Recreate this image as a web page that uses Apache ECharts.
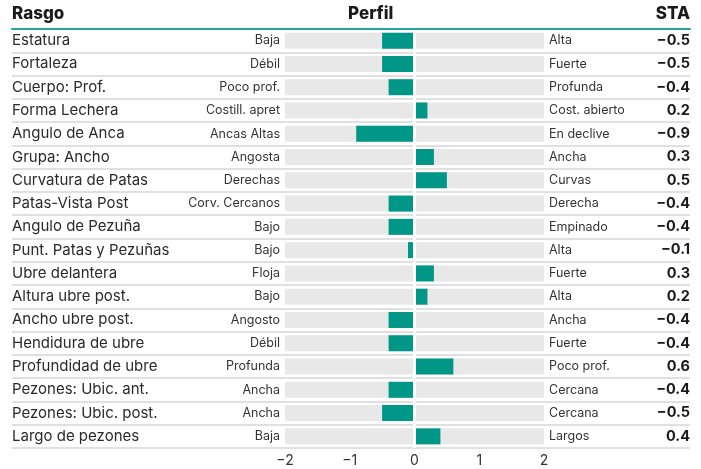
<!DOCTYPE html>
<html>
<head>
<meta charset="utf-8">
<script src="https://cdn.jsdelivr.net/npm/echarts@6/dist/echarts.min.js"></script>
<style>
  html, body { margin: 0; padding: 0; background: #fff; }
  #chart { width: 701px; height: 469px; }
</style>
</head>
<body>
<div id="chart"></div>
<script>
var traits = ['Estatura', 'Fortaleza', 'Cuerpo: Prof.', 'Forma Lechera', 'Angulo de Anca', 'Grupa: Ancho',
  'Curvatura de Patas', 'Patas-Vista Post', 'Angulo de Pezuña', 'Punt. Patas y Pezuñas', 'Ubre delantera',
  'Altura ubre post.', 'Ancho ubre post.', 'Hendidura de ubre', 'Profundidad de ubre', 'Pezones: Ubic. ant.',
  'Pezones: Ubic. post.', 'Largo de pezones']
var lowLabels = ['Baja', 'Débil', 'Poco prof.', 'Costill. apret', 'Ancas Altas', 'Angosta', 'Derechas',
  'Corv. Cercanos', 'Bajo', 'Bajo', 'Floja', 'Bajo', 'Angosto', 'Débil', 'Profunda', 'Ancha', 'Ancha', 'Baja']
var highLabels = ['Alta', 'Fuerte', 'Profunda', 'Cost. abierto', 'En declive', 'Ancha', 'Curvas', 'Derecha',
  'Empinado', 'Alta', 'Fuerte', 'Alta', 'Ancha', 'Fuerte', 'Poco prof.', 'Cercana', 'Cercana', 'Largos']
var staValues = [-0.5, -0.5, -0.4, 0.2, -0.9, 0.3, 0.5, -0.4, -0.4, -0.1, 0.3, 0.2, -0.4, -0.4, 0.6, -0.4, -0.5, 0.4]
var scaleMin = -2
var scaleMax = 2

var font = 'Inter'
var teal = '#009688'

function fmt(v) {
  return String(v).replace('-', '\u2212')
}

var headStyle = { fontSize: 17, fontWeight: 800, color: '#1a1a1a', fontFamily: font }

var chart = echarts.init(document.getElementById('chart'))

chart.setOption({
  animation: false,
  textStyle: { fontFamily: font },
  title: [
    { text: 'Rasgo', left: 12, top: 5, padding: 0, textStyle: headStyle },
    { text: 'Perfil', left: 348, top: 5, padding: 0, textStyle: headStyle },
    { text: 'STA', right: 11, top: 5, padding: 0, textStyle: headStyle }
  ],
  grid: [
    { left: 285, right: 157, top: 29, bottom: 21 },
    { left: 12, right: 11, top: 29, bottom: 21 }
  ],
  xAxis: [
    {
      gridIndex: 0, type: 'value', min: scaleMin, max: scaleMax, interval: 1,
      axisLine: { show: false }, axisTick: { show: false }, splitLine: { show: false },
      axisLabel: { color: '#333', fontSize: 14, margin: 6, formatter: fmt }
    },
    {
      gridIndex: 1, type: 'value', position: 'top', min: 0, max: 1, z: 5,
      axisLine: { show: true, lineStyle: { color: '#26a69a', width: 2 } },
      axisTick: { show: false }, axisLabel: { show: false }, splitLine: { show: false }
    }
  ],
  yAxis: [
    {
      gridIndex: 0, type: 'category', inverse: true, data: lowLabels, position: 'left',
      axisLine: { show: false }, axisTick: { show: false }, splitLine: { show: false },
      axisLabel: { color: '#333', fontSize: 12.5, margin: 5 }
    },
    {
      gridIndex: 0, type: 'category', inverse: true, data: highLabels, position: 'right',
      axisLine: { show: false }, axisTick: { show: false }, splitLine: { show: false },
      axisLabel: { color: '#333', fontSize: 12.5, margin: 5 }
    },
    {
      gridIndex: 1, type: 'category', inverse: true, data: traits, position: 'left',
      axisLine: { show: false }, axisTick: { show: false },
      splitLine: { show: true, lineStyle: { color: '#e0e0e0', width: 2 } },
      axisLabel: { inside: true, color: '#2a2a2a', fontSize: 15, margin: 0 }
    },
    {
      gridIndex: 1, type: 'category', inverse: true, data: staValues.map(function(v) { return fmt(v.toFixed(1)) }),
      position: 'right',
      axisLine: { show: false }, axisTick: { show: false }, splitLine: { show: false },
      axisLabel: { inside: true, color: '#1a1a1a', fontSize: 14.5, fontWeight: 'bold', margin: 0 }
    }
  ],
  series: [
    {
      type: 'bar', xAxisIndex: 0, yAxisIndex: 0, silent: true,
      data: traits.map(function() { return scaleMin }),
      barWidth: 16, barGap: '-100%',
      itemStyle: { color: '#e8e8e8' }
    },
    {
      type: 'bar', xAxisIndex: 0, yAxisIndex: 0, silent: true,
      data: traits.map(function() { return scaleMax }),
      barWidth: 16, barGap: '-100%',
      itemStyle: { color: '#e8e8e8' }
    },
    {
      type: 'bar', xAxisIndex: 0, yAxisIndex: 0, silent: true,
      data: staValues,
      barWidth: 16, barGap: '-100%',
      itemStyle: { color: teal },
      markLine: {
        silent: true, symbol: 'none', label: { show: false },
        lineStyle: { color: '#fff', width: 3, type: 'solid' },
        data: [{ xAxis: 0 }]
      }
    }
  ]
})
</script>
</body>
</html>
